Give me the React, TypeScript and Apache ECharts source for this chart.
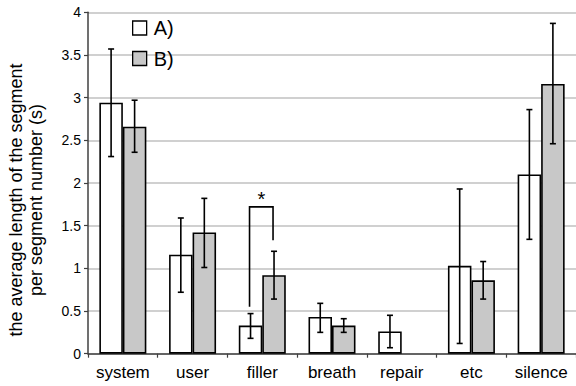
import React, { useEffect, useRef } from "react";
import * as echarts from "echarts";

const categories = ["system", "user", "filler", "breath", "repair", "etc", "silence"];
const seriesNames = ["A)", "B)"];
const valuesA = [2.94, 1.16, 0.33, 0.43, 0.26, 1.03, 2.1];
const valuesB: (number | string)[] = [2.66, 1.42, 0.92, 0.33, "-", 0.86, 3.16];
const errLowA = [2.31, 0.72, 0.18, 0.25, 0.07, 0.12, 1.34];
const errHighA = [3.57, 1.59, 0.47, 0.59, 0.45, 1.93, 2.86];
const errLowB: (number | null)[] = [2.36, 1.01, 0.64, 0.25, null, 0.64, 2.46];
const errHighB: (number | null)[] = [2.97, 1.82, 1.2, 0.41, null, 1.08, 3.87];
// significance bracket on "filler": [category index, left foot, top, right foot]
const bracket = [[2, 0.55, 1.72, 1.33]];
const yTicks = { min: 0, max: 4, interval: 0.5 };

const FONT = "'Liberation Sans', Arial, sans-serif";
const BAR_W = 23.5;

function errRender(sign: number) {
  return (params: any, api: any) => {
    const i = api.value(0);
    const lo = api.coord([i, api.value(1)]);
    const hi = api.coord([i, api.value(2)]);
    const x = lo[0] + (sign * BAR_W) / 2;
    const cap = 3;
    const st = { stroke: "#000", lineWidth: 1.6, fill: null };
    return {
      type: "group",
      children: [
        { type: "line", shape: { x1: x, y1: lo[1], x2: x, y2: hi[1] }, style: st },
        { type: "line", shape: { x1: x - cap, y1: lo[1], x2: x + cap, y2: lo[1] }, style: st },
        { type: "line", shape: { x1: x - cap, y1: hi[1], x2: x + cap, y2: hi[1] }, style: st },
      ],
    };
  };
}

export default function App() {
  const ref = useRef<HTMLDivElement>(null);
  useEffect(() => {
    document.body.style.margin = "0";
    const chart = echarts.init(ref.current!, null, { renderer: "svg" });
    const errA = categories.map((_, i) => [i, errLowA[i], errHighA[i]]);
    const errB = categories
      .map((_, i) => [i, errLowB[i], errHighB[i]])
      .filter((d) => d[1] !== null);
    chart.setOption({
      animation: false,
      backgroundColor: "#fff",
      textStyle: { fontFamily: FONT },
      grid: { left: 88, right: -2, top: 12.3, bottom: 32.3 },
      legend: {
        data: seriesNames,
        orient: "vertical",
        left: 132,
        top: 18,
        padding: 0,
        itemWidth: 14,
        itemHeight: 14,
        itemGap: 10.5,
        icon: "rect",
        textStyle: { fontSize: 20, color: "#000", fontFamily: FONT, padding: [0, 0, 0, 2] },
        itemStyle: { borderColor: "#000", borderWidth: 1.3 },
      },
      xAxis: {
        type: "category",
        data: categories,
        axisLine: { lineStyle: { color: "#404040", width: 1.5 } },
        axisTick: { show: true, length: 4, lineStyle: { color: "#404040", width: 1.2 } },
        axisLabel: { interval: 0, fontSize: 17, color: "#000", margin: 10, fontFamily: FONT },
      },
      yAxis: {
        type: "value",
        min: yTicks.min,
        max: yTicks.max,
        interval: yTicks.interval,
        axisLine: { show: true, lineStyle: { color: "#404040", width: 1.5 } },
        axisTick: { show: true, length: 4, lineStyle: { color: "#404040", width: 1.2 } },
        axisLabel: { fontSize: 14, color: "#000", margin: 7, fontFamily: FONT },
        splitLine: { lineStyle: { color: "#c0c0c0", width: 1.5 } },
      },
      graphic: [
        {
          type: "text",
          x: 26,
          y: 200,
          rotation: Math.PI / 2,
          style: {
            text: "the average length of the segment\nper segment number (s)",
            font: `18px ${FONT}`,
            fill: "#000",
            textAlign: "center",
            textVerticalAlign: "middle",
            lineHeight: 20,
          },
        },
      ],
      series: [
        {
          name: seriesNames[0],
          type: "bar",
          data: valuesA,
          barWidth: BAR_W,
          barGap: "0%",
          itemStyle: { color: "#ffffff", borderColor: "#000", borderWidth: 1.6 },
        },
        {
          name: seriesNames[1],
          type: "bar",
          data: valuesB,
          barWidth: BAR_W,
          barGap: "0%",
          itemStyle: { color: "#c8c8c8", borderColor: "#000", borderWidth: 1.6 },
        },
        {
          type: "custom",
          renderItem: errRender(-1),
          data: errA,
          encode: { x: 0, y: [1, 2] },
          z: 5,
        },
        {
          type: "custom",
          renderItem: errRender(1),
          data: errB,
          encode: { x: 0, y: [1, 2] },
          z: 5,
        },
        {
          type: "custom",
          data: bracket,
          encode: { x: 0, y: [1, 2, 3] },
          z: 5,
          renderItem: (params: any, api: any) => {
            const i = api.value(0);
            const l = api.coord([i, api.value(1)]);
            const t = api.coord([i, api.value(2)]);
            const r = api.coord([i, api.value(3)]);
            const xl = l[0] - BAR_W / 2 - 1;
            const xr = l[0] + BAR_W / 2 - 1;
            return {
              type: "group",
              children: [
                {
                  type: "polyline",
                  shape: { points: [[xl, l[1]], [xl, t[1]], [xr, t[1]], [xr, r[1]]] },
                  style: { stroke: "#000", lineWidth: 1.6, fill: null },
                },
                {
                  type: "text",
                  x: (xl + xr) / 2,
                  y: t[1] + 2,
                  style: {
                    text: "*",
                    font: `20px ${FONT}`,
                    fill: "#000",
                    textAlign: "center",
                    textVerticalAlign: "bottom",
                  },
                },
              ],
            };
          },
        },
      ],
    });
    return () => chart.dispose();
  }, []);
  return <div ref={ref} style={{ width: 576, height: 386 }} />;
}
